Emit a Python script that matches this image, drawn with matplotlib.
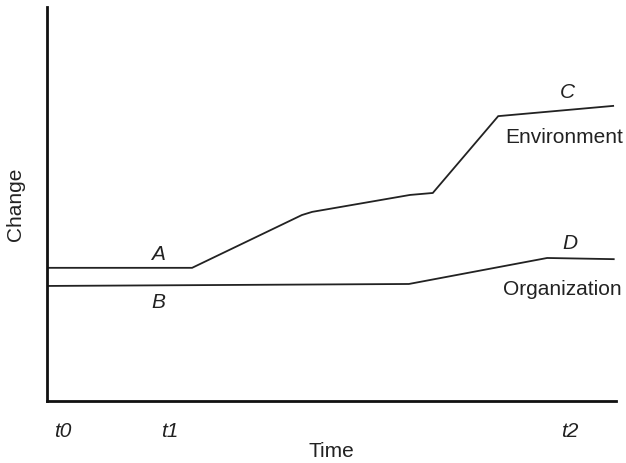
import matplotlib
matplotlib.use("Agg")
import matplotlib.pyplot as plt

plt.rcParams['font.family'] = ['Liberation Sans', 'DejaVu Sans']

# Change over time (arbitrary units, 0-100 on both axes)
env_x = [0, 25.5, 44.8, 46.6, 63.8, 67.8, 79.3, 99.5]
env_y = [33.8, 33.8, 47.2, 48.0, 52.3, 52.8, 72.3, 74.9]

org_x = [0, 63.6, 87.9, 99.6]
org_y = [29.2, 29.7, 36.3, 36.0]

time_ticks = [2.8, 21.6, 91.9]
time_labels = ['t0', 't1', 't2']

point_labels = ['A', 'B', 'C', 'D']
point_x = [19.5, 19.5, 91.4, 91.9]
point_y = [37.3, 24.9, 78.4, 40.1]

series_names = ['Environment', 'Organization']
name_x = [90.9, 90.5]
name_y = [67.0, 28.4]

FS = 15
W, H = 626, 463
fig = plt.figure(figsize=(W / 100, H / 100), dpi=100)
left, right, top, bottom = 47, 616, 7, 401
ax = fig.add_axes([left / W, (H - bottom) / H, (right - left) / W, (bottom - top) / H])

line_kw = dict(color='#222222', lw=1.3, solid_joinstyle='miter')
ax.plot(env_x, env_y, **line_kw)
ax.plot(org_x, org_y, **line_kw)

ax.set_xlim(0, 100)
ax.set_ylim(0, 100)

for s in ('top', 'right'):
    ax.spines[s].set_visible(False)
for s in ('left', 'bottom'):
    ax.spines[s].set_linewidth(2)
    ax.spines[s].set_color('#111111')

ax.set_yticks([])
ax.set_xticks(time_ticks)
ax.set_xticklabels(time_labels, fontstyle='italic', fontsize=FS, color='#222222')
ax.tick_params(axis='x', length=0, pad=15)

ax.set_xlabel('Time', fontsize=FS, color='#222222', labelpad=1)
ax.set_ylabel('Change', fontsize=FS, color='#222222', labelpad=16)

for lab, x, y in zip(point_labels, point_x, point_y):
    ax.text(x, y, lab, fontsize=FS, fontstyle='italic', color='#222222',
            ha='center', va='center')
for name, x, y in zip(series_names, name_x, name_y):
    ax.text(x, y, name, fontsize=FS, color='#222222', ha='center', va='center')

fig.savefig('out.png', dpi=100)
